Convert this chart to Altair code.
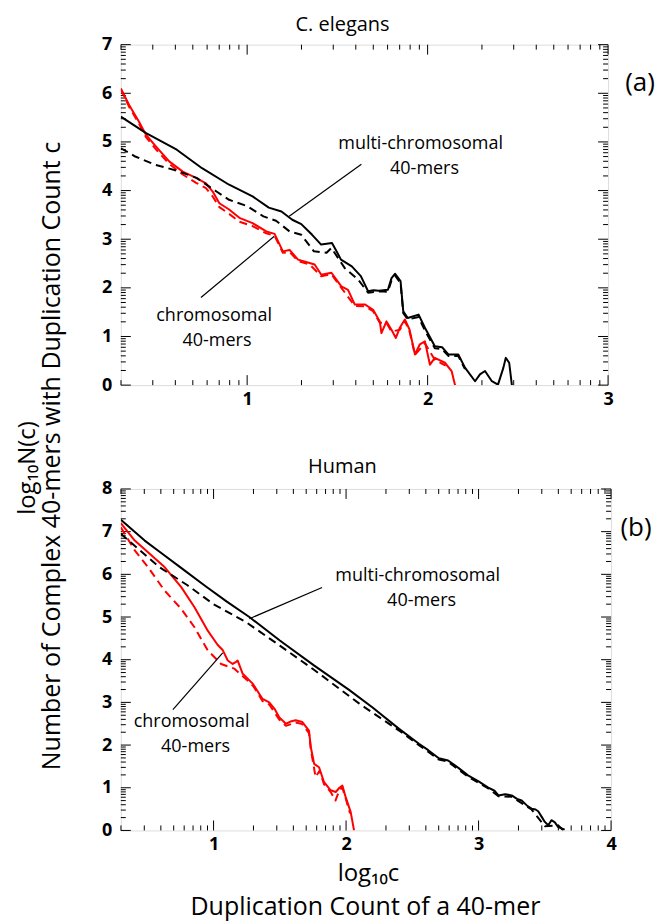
import altair as alt
import pandas as pd
import numpy as np

FONT = "Open Sans"

# ---------------- Panel (a): C. elegans ----------------
A_BLACK_SOLID_X = [0.30, 0.44, 0.61, 0.75, 0.90, 1.03, 1.12, 1.19, 1.25, 1.30, 1.36, 1.41, 1.47, 1.49, 1.52,
                   1.58, 1.63, 1.67, 1.70, 1.73, 1.78, 1.80, 1.82, 1.85, 1.865, 1.89, 1.95, 1.985, 2.04, 2.08,
                   2.115, 2.17, 2.207, 2.263, 2.29, 2.318, 2.356, 2.39, 2.42, 2.433, 2.452, 2.467]
A_BLACK_SOLID_Y = [5.52, 5.18, 4.84, 4.46, 4.12, 3.88, 3.65, 3.57, 3.40, 3.31, 3.09, 2.89, 2.92, 2.79, 2.58,
                   2.44, 2.24, 1.93, 1.95, 1.94, 1.96, 2.20, 2.29, 2.14, 1.52, 1.38, 1.45, 1.18, 0.80, 0.78,
                   0.63, 0.63, 0.36, 0.08, 0.22, 0.29, 0.08, 0.01, 0.36, 0.56, 0.46, 0.0]

A_BLACK_DASH_X = [0.30, 0.38, 0.49, 0.61, 0.72, 0.83, 0.90, 1.00, 1.09, 1.16, 1.235, 1.30, 1.37, 1.44, 1.467,
                  1.54, 1.615, 1.67, 1.74, 1.78, 1.80, 1.82, 1.85, 1.865, 1.89, 1.95, 1.985, 2.04, 2.08, 2.115,
                  2.17, 2.207]
A_BLACK_DASH_Y = [4.87, 4.70, 4.53, 4.41, 4.26, 3.98, 3.81, 3.68, 3.47, 3.38, 3.16, 3.09, 2.75, 2.72, 2.82,
                  2.41, 2.17, 1.90, 1.93, 1.92, 2.15, 2.25, 2.10, 1.48, 1.35, 1.40, 1.12, 0.76, 0.74, 0.60,
                  0.60, 0.33]

A_RED_SOLID_X = [0.30, 0.346, 0.40, 0.439, 0.494, 0.568, 0.643, 0.717, 0.772, 0.809, 0.846, 0.90, 0.957, 1.03,
                 1.106, 1.152, 1.198, 1.235, 1.282, 1.346, 1.374, 1.411, 1.467, 1.522, 1.559, 1.596, 1.652,
                 1.698, 1.735, 1.744, 1.772, 1.80, 1.824, 1.846, 1.874, 1.90, 1.93, 1.957, 1.985, 2.013, 2.04,
                 2.096, 2.133, 2.152]
A_RED_SOLID_Y = [6.10, 5.76, 5.42, 5.15, 4.91, 4.60, 4.39, 4.26, 4.15, 3.98, 3.74, 3.61, 3.44, 3.33,
                 3.16, 3.11, 2.75, 2.78, 2.58, 2.51, 2.48, 2.27, 2.31, 2.03, 1.96, 1.66, 1.66,
                 1.55, 1.31, 1.07, 1.31, 1.14, 0.97, 1.18, 1.35, 1.14, 0.63, 0.84, 0.90, 0.42, 0.56,
                 0.46, 0.29, 0.0]

A_RED_DASH_X = [0.30, 0.346, 0.40, 0.439, 0.494, 0.568, 0.643, 0.717, 0.772, 0.809, 0.846, 0.90, 0.957, 1.03,
                1.106, 1.152, 1.198, 1.235, 1.282, 1.346, 1.411, 1.467, 1.522, 1.596, 1.652, 1.698, 1.735,
                1.772, 1.80, 1.846, 1.874, 1.90, 1.93, 1.985, 2.04, 2.10]
A_RED_DASH_Y = [6.08, 5.72, 5.38, 5.10, 4.85, 4.55, 4.33, 4.16, 4.05, 3.88, 3.66, 3.52, 3.36, 3.27,
                3.12, 3.07, 2.72, 2.74, 2.55, 2.48, 2.24, 2.28, 2.00, 1.63, 1.62, 1.52, 1.28,
                1.28, 1.10, 1.14, 1.32, 1.10, 0.62, 0.86, 0.52, 0.40]

# ---------------- Panel (b): Human ----------------
B_BLACK_SOLID_X = [0.30, 0.48, 0.60, 0.76, 0.94, 1.10, 1.27, 1.50, 1.76, 2.02, 2.20, 2.40, 2.55, 2.62, 2.70,
                   2.77, 2.85, 2.92, 3.00, 3.07, 3.12, 3.15, 3.20, 3.25, 3.29, 3.325, 3.37, 3.40, 3.43, 3.45,
                   3.48, 3.50, 3.526, 3.55, 3.576, 3.60, 3.626, 3.65]
B_BLACK_SOLID_Y = [7.28, 6.79, 6.51, 6.14, 5.72, 5.36, 5.00, 4.45, 3.86, 3.30, 2.88, 2.38, 2.03, 1.88, 1.69,
                   1.64, 1.46, 1.29, 1.15, 1.01, 0.93, 0.82, 0.85, 0.82, 0.74, 0.70, 0.57, 0.51, 0.49, 0.45,
                   0.30, 0.20, 0.12, 0.24, 0.19, 0.08, 0.05, 0.02]

B_BLACK_DASH_X = [0.30, 0.40, 0.59, 0.80, 1.00, 1.245, 1.50, 1.76, 2.10, 2.40, 2.55, 2.70, 2.77, 2.92, 3.07,
                  3.15, 3.25, 3.40, 3.50, 3.60, 3.64]
B_BLACK_DASH_Y = [6.95, 6.68, 6.17, 5.75, 5.30, 4.88, 4.33, 3.76, 2.97, 2.34, 2.00, 1.66, 1.61, 1.26, 0.99,
                  0.80, 0.79, 0.49, 0.10, 0.12, 0.0]

B_RED_SOLID_X = [0.30, 0.405, 0.505, 0.63, 0.756, 0.856, 0.956, 1.03, 1.07, 1.107, 1.144, 1.17, 1.182, 1.22,
                 1.295, 1.37, 1.42, 1.46, 1.495, 1.546, 1.58, 1.62, 1.67, 1.72, 1.734, 1.759, 1.796, 1.834,
                 1.884, 1.922, 1.95, 1.972, 1.997, 2.035, 2.06]
B_RED_SOLID_Y = [7.20, 6.79, 6.52, 6.17, 5.70, 5.23, 4.68, 4.35, 4.22, 3.98, 3.90, 3.95, 3.98, 3.67,
                 3.44, 3.08, 3.00, 2.85, 2.65, 2.50, 2.55, 2.58, 2.54, 2.34, 1.95, 1.56, 1.48, 1.13,
                 0.94, 0.90, 1.00, 1.05, 0.78, 0.43, 0.0]

B_RED_DASH_X = [0.30, 0.405, 0.505, 0.63, 0.756, 0.856, 0.956, 1.057, 1.157, 1.257, 1.30, 1.37, 1.42, 1.495,
                1.546, 1.62, 1.67, 1.72, 1.734, 1.77, 1.80, 1.834, 1.884, 1.92, 1.95, 1.972, 2.00, 2.03]
B_RED_DASH_Y = [7.10, 6.56, 6.17, 5.62, 5.19, 4.76, 4.22, 3.90, 3.79, 3.51, 3.38, 3.03, 2.95, 2.60,
                2.45, 2.53, 2.49, 2.28, 1.90, 1.25, 1.40, 1.08, 0.90, 0.70, 0.95, 1.00, 0.72, 0.40]

# annotation labels (data coordinates)
A_LABELS = [("multi-chromosomal", 1.961, 4.95), ("40-mers", 1.983, 4.44),
            ("chromosomal", 0.817, 1.43), ("40-mers", 0.833, 0.90)]
A_POINTERS = [(1.633, 4.54, 1.233, 3.47), (0.744, 1.80, 1.15, 3.06)]
B_LABELS = [("multi-chromosomal", 2.54, 5.96), ("40-mers", 2.57, 5.37),
            ("chromosomal", 0.834, 2.55), ("40-mers", 0.864, 1.96)]
B_POINTERS = [(1.819, 5.69, 1.27, 4.96), (0.693, 2.83, 1.069, 4.16)]

A_XDOM, A_YDOM = [0.3, 3.0], [0, 7]
B_XDOM, B_YDOM = [0.3, 4.0], [0, 8]
A_XLAB, A_YLAB = [1, 2, 3], [0, 1, 2, 3, 4, 5, 6, 7]
B_XLAB, B_YLAB = [1, 2, 3, 4], [0, 1, 2, 3, 4, 5, 6, 7, 8]

MINOR_K = [2, 3, 4, 5, 6, 7, 8, 9]


def minor_ticks(lo, hi):
    out = []
    for n in range(int(np.floor(lo)), int(np.ceil(hi))):
        for k in MINOR_K:
            v = n + np.log10(k)
            if lo <= v <= hi:
                out.append(float(v))
    return out


def xenc(dom, vals):
    return alt.X("x:Q", scale=alt.Scale(domain=dom, nice=False, zero=False),
                 axis=alt.Axis(values=vals, title=None, ticks=False, tickSize=0, domain=False, grid=False,
                               labelFont=FONT, labelFontSize=18, labelFontWeight="bold", labelColor="black",
                               labelPadding=5, labelFlush=False, labelOverlap=False))


def yenc(dom, vals):
    return alt.Y("y:Q", scale=alt.Scale(domain=dom, nice=False, zero=False),
                 axis=alt.Axis(values=vals, title=None, ticks=False, tickSize=0, domain=False, grid=False,
                               labelFont=FONT, labelFontSize=18, labelFontWeight="bold", labelColor="black",
                               labelPadding=9, labelFlush=False, labelOverlap=False))


def panel(xdom, ydom, xlab, ylab, series, labels, pointers, W, H, extra):
    X = xenc(xdom, xlab)
    Y = yenc(ydom, ylab)
    layers = []
    # ticks (inward on all four sides)
    xmaj = pd.DataFrame({"x": [float(v) for v in range(int(np.ceil(xdom[0])), int(xdom[1]) + 1)]})
    xmin = pd.DataFrame({"x": minor_ticks(xdom[0], xdom[1])})
    ymaj = pd.DataFrame({"y": [float(v) for v in range(int(ydom[0]), int(ydom[1]) + 1)]})
    ymin = pd.DataFrame({"y": minor_ticks(ydom[0], ydom[1])})
    for df, ln in ((xmaj, 10), (xmin, 5)):
        layers.append(alt.Chart(df).mark_rule(color="black", strokeWidth=1).encode(
            x=X, y=alt.value(H), y2=alt.value(H - ln)))
        layers.append(alt.Chart(df).mark_rule(color="black", strokeWidth=1).encode(
            x=X, y=alt.value(0), y2=alt.value(ln)))
    for df, ln in ((ymaj, 10), (ymin, 5)):
        layers.append(alt.Chart(df).mark_rule(color="black", strokeWidth=1).encode(
            y=Y, x=alt.value(0), x2=alt.value(ln)))
        layers.append(alt.Chart(df).mark_rule(color="black", strokeWidth=1).encode(
            y=Y, x=alt.value(W), x2=alt.value(W - ln)))
    # curves
    for xs, ys, color, dash in series:
        df = pd.DataFrame({"x": xs, "y": ys, "o": list(range(len(xs)))})
        kw = dict(color=color, strokeWidth=2, clip=True, strokeJoin="round")
        if dash:
            kw["strokeDash"] = [8, 5]
        layers.append(alt.Chart(df).mark_line(**kw).encode(x=X, y=Y, order="o:Q"))
    # pointer lines
    pdf = pd.DataFrame(pointers, columns=["x", "y", "x2", "y2"])
    layers.append(alt.Chart(pdf).mark_rule(color="black", strokeWidth=1.2).encode(
        x=X, y=Y, x2="x2:Q", y2="y2:Q"))
    # label texts
    ldf = pd.DataFrame(labels, columns=["t", "x", "y"])
    layers.append(alt.Chart(ldf).mark_text(font=FONT, fontSize=18, color="black", align="center",
                                           baseline="middle").encode(x=X, y=Y, text="t:N"))
    # extra free texts (titles, panel letters)
    for t, px, py, fs, ang in extra:
        kw = dict(font=FONT, fontSize=fs, color="black", align="center", baseline="middle")
        if ang:
            kw["angle"] = ang
        layers.append(alt.Chart(pd.DataFrame({"t": [t]})).mark_text(**kw).encode(
            x=alt.value(px), y=alt.value(py), text="t:N"))
    return alt.layer(*layers).properties(width=W, height=H)


A_SERIES = [(A_RED_DASH_X, A_RED_DASH_Y, "#ff0000", True),
            (A_RED_SOLID_X, A_RED_SOLID_Y, "#ff0000", False),
            (A_BLACK_DASH_X, A_BLACK_DASH_Y, "black", True),
            (A_BLACK_SOLID_X, A_BLACK_SOLID_Y, "black", False)]
B_SERIES = [(B_RED_DASH_X, B_RED_DASH_Y, "#ff0000", True),
            (B_RED_SOLID_X, B_RED_SOLID_Y, "#ff0000", False),
            (B_BLACK_DASH_X, B_BLACK_DASH_Y, "black", True),
            (B_BLACK_SOLID_X, B_BLACK_SOLID_Y, "black", False)]

A_EXTRA = [("C. elegans", 222, -20, 20, 0), ("(a)", 520, 38, 26, 0),
           ("log₁₀N(c)", -93, 424, 24, 270),
           ("Number of Complex 40-mers with Duplication Count c", -69, 412, 25, 270)]
B_EXTRA = [("Human", 222, -22, 20, 0), ("(b)", 516, 39, 26, 0),
           ("log₁₀c", 248, 385.5, 24, 0),
           ("Duplication Count of a 40-mer", 245, 419, 25, 0)]

pa = panel(A_XDOM, A_YDOM, A_XLAB, A_YLAB, A_SERIES, A_LABELS, A_POINTERS, 488, 341, A_EXTRA)
pb = panel(B_XDOM, B_YDOM, B_XLAB, B_YLAB, B_SERIES, B_LABELS, B_POINTERS, 491, 342, B_EXTRA)

chart = alt.vconcat(pa, pb, spacing=104, bounds="flush").properties(
    padding={"left": 7, "top": 5, "right": 2, "bottom": 2}).configure_view(
    stroke="black", strokeWidth=1.5).configure(background="white")

chart.save("out.html", embed_options={"renderer": "svg", "actions": False})
